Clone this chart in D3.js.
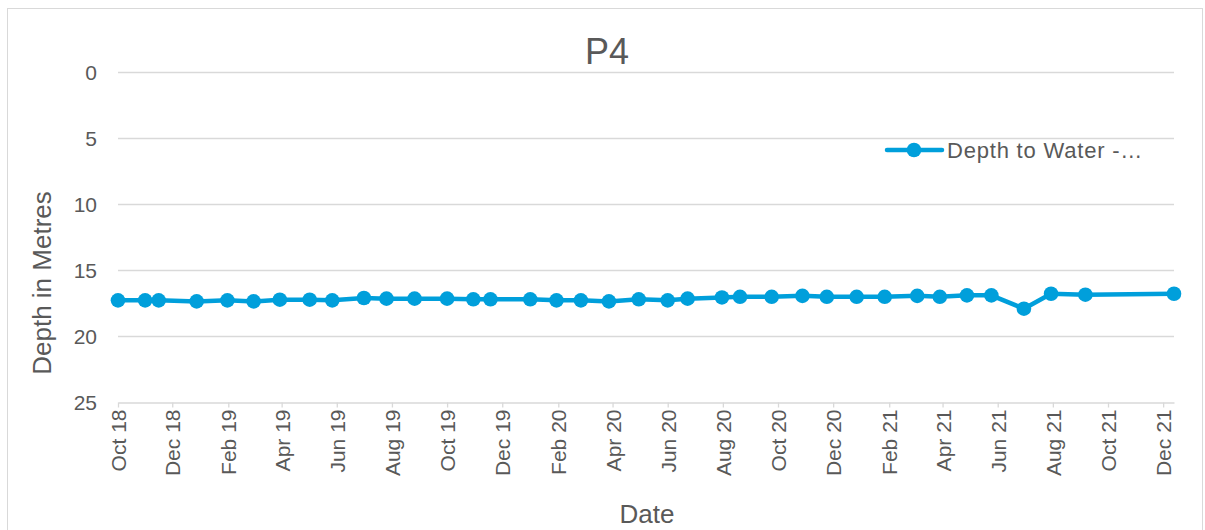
<!DOCTYPE html>
<html>
<head>
<meta charset="utf-8">
<script src="https://cdn.jsdelivr.net/npm/d3@7"></script>
<style>
  html, body { margin: 0; padding: 0; background: #fff; }
  svg { display: block; font-family: "Liberation Sans", Arial, sans-serif; }
</style>
</head>
<body>
<svg id="chart" width="1205" height="530"></svg>
<script>
const title = "P4";
const seriesName = "Depth to Water -…";
const yAxisTitle = "Depth in Metres";
const xAxisTitle = "Date";
const dates = [
  "2018-10-02","2018-11-01","2018-11-16","2018-12-28","2019-01-31","2019-03-01",
  "2019-03-30","2019-05-02","2019-05-27","2019-07-01","2019-07-26","2019-08-26",
  "2019-10-01","2019-10-30","2019-11-18","2020-01-01","2020-01-30","2020-02-26",
  "2020-03-28","2020-04-30","2020-06-01","2020-06-23","2020-07-31","2020-08-20",
  "2020-09-24","2020-10-28","2020-11-24","2020-12-27","2021-01-27","2021-03-04",
  "2021-03-29","2021-04-28","2021-05-25","2021-06-30","2021-07-30","2021-09-06",
  "2021-12-13"
];
const depths = [
  17.3, 17.3, 17.3, 17.38, 17.3, 17.38,
  17.25, 17.25, 17.3, 17.12, 17.17, 17.17,
  17.17, 17.22, 17.22, 17.22, 17.3, 17.3,
  17.38, 17.22, 17.3, 17.17, 17.08, 17.03,
  17.03, 16.96, 17.03, 17.03, 17.03, 16.96,
  17.03, 16.92, 16.92, 17.93, 16.8, 16.87,
  16.8
];
const yTicks = [0, 5, 10, 15, 20, 25];
const monthNames = ["Jan","Feb","Mar","Apr","May","Jun","Jul","Aug","Sep","Oct","Nov","Dec"];

const parse = d3.utcParse("%Y-%m-%d");
const data = dates.map((d, i) => ({ date: parse(d), value: depths[i] }));

const svg = d3.select("#chart");
const mLeft = 118, mRight = 1174, mTop = 72, mBottom = 402;
const color = "#009fdb";
const textColor = "#595959";
const gridColor = "#d9d9d9";

// Chart border
svg.append("rect").attr("x", 7.5).attr("y", 8.5).attr("width", 1195).attr("height", 540)
  .attr("fill", "#fff").attr("stroke", "#d9d9d9").attr("stroke-width", 1);

const x = d3.scaleUtc()
  .domain([data[0].date, data[data.length - 1].date])
  .range([mLeft, mRight]);
const y = d3.scaleLinear().domain([0, 25]).range([mTop, mBottom]);

// gridlines
svg.append("g").selectAll("line").data(yTicks.filter(t => t !== 25)).join("line")
  .attr("x1", mLeft).attr("x2", mRight)
  .attr("y1", d => Math.round(y(d)) + 0.5).attr("y2", d => Math.round(y(d)) + 0.5)
  .attr("stroke", gridColor).attr("stroke-width", 1.3);

// y labels
svg.append("g").selectAll("text").data(yTicks).join("text")
  .attr("x", 97).attr("y", d => y(d)).attr("dy", "0.36em")
  .attr("text-anchor", "end").attr("fill", textColor).attr("font-size", 21)
  .text(d => d);

// x axis
const xTickVals = d3.range(0, 39, 2).map(m => d3.utcMonth.offset(parse("2018-10-01"), m))
  .map(d => d < data[0].date ? data[0].date : d)
  .filter(d => d <= data[data.length - 1].date);
const xAxis = d3.axisBottom(x).tickValues(xTickVals).tickSize(5).tickSizeOuter(0)
  .tickFormat(d => monthNames[d.getUTCMonth()] + " " + String(d.getUTCFullYear()).slice(2));
const gx = svg.append("g").attr("transform", `translate(0,${mBottom + 0.5})`).call(xAxis);
gx.select(".domain").attr("stroke", gridColor).attr("stroke-width", 1.3);
gx.selectAll(".tick line").attr("stroke", gridColor).attr("stroke-width", 1.3);
gx.selectAll(".tick text")
  .attr("font-size", 21).attr("fill", textColor)
  .attr("font-family", "Liberation Sans, Arial, sans-serif")
  .attr("text-anchor", "end")
  .attr("transform", "rotate(-90)")
  .attr("x", -7).attr("y", 0).attr("dy", "0.36em");

// line
const line = d3.line().x(d => x(d.date)).y(d => y(d.value));
svg.append("path").datum(data).attr("d", line)
  .attr("fill", "none").attr("stroke", color).attr("stroke-width", 4.5)
  .attr("stroke-linejoin", "round");
svg.append("g").selectAll("circle").data(data).join("circle")
  .attr("cx", d => x(d.date)).attr("cy", d => y(d.value)).attr("r", 7.3)
  .attr("fill", color);

// title
svg.append("text").attr("x", 607).attr("y", 64).attr("text-anchor", "middle")
  .attr("font-size", 36).attr("fill", textColor).text(title);

// axis titles
svg.append("text").attr("transform", "translate(51,283) rotate(-90)")
  .attr("text-anchor", "middle").attr("font-size", 26).attr("fill", textColor).text(yAxisTitle);
svg.append("text").attr("x", 647).attr("y", 523).attr("text-anchor", "middle")
  .attr("font-size", 26).attr("fill", textColor).text(xAxisTitle);

// legend
const lg = svg.append("g");
lg.append("line").attr("x1", 887).attr("x2", 942).attr("y1", 150).attr("y2", 150)
  .attr("stroke", color).attr("stroke-width", 4.5).attr("stroke-linecap", "round");
lg.append("circle").attr("cx", 914).attr("cy", 150).attr("r", 7.3).attr("fill", color);
lg.append("text").attr("x", 947).attr("y", 150).attr("dy", "0.36em")
  .attr("font-size", 22).attr("letter-spacing", 0.8).attr("fill", textColor).text(seriesName);
</script>
</body>
</html>
